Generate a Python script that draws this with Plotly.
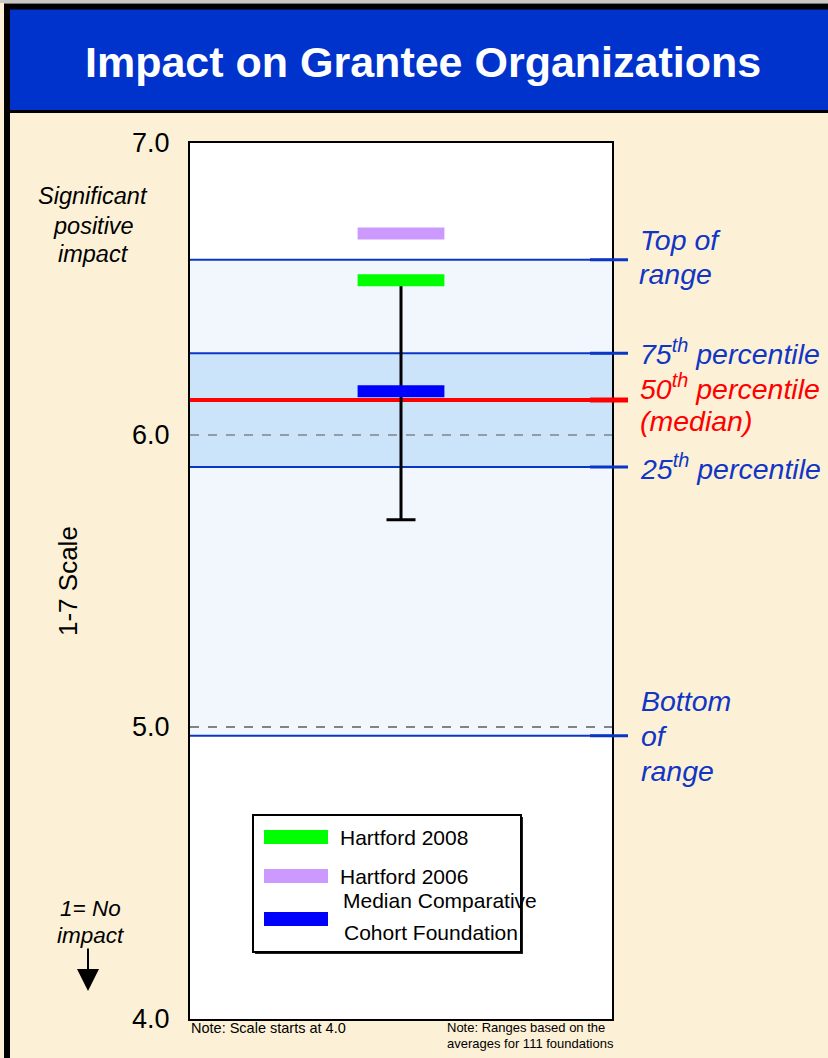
import plotly.graph_objects as go

# ---------------- data ----------------
categories = ["Hartford 2008", "Hartford 2006", "Median Comparative Cohort Foundation"]
values = [6.53, 6.69, 6.15]
colors = ["#00FF00", "#CC99FF", "#0000FF"]

whisker_low = 5.71  # lower end of Hartford 2008 range

range_names = ["Bottom of range", "25th percentile", "50th percentile (median)", "75th percentile", "Top of range"]
range_values = [4.97, 5.89, 6.12, 6.28, 6.60]

y_ticks = [4.0, 5.0, 6.0, 7.0]
y_ticktext = ["4.0", "5.0", "6.0", "7.0"]
grid_values = [5.0, 6.0]

# ---------------- layout helpers ----------------
W, H = 828, 1058
L, R, T, B = 190, 612, 143, 1019
Y0, Y1 = 4.0, 7.0
FONT = "Liberation Sans, Arial, sans-serif"
BEIGE = "#FCF1D7"
TITLE_BLUE = "#0033CC"
LINE_BLUE = "#0A36C8"
TXT_BLUE = "#1236C4"


def px(x):
    return (x - L) / (R - L)


def py(y):
    return (B - y) / (B - T)


def vy(v):
    return (v - Y0) / (Y1 - Y0)


fig = go.Figure()

# whisker (lower range of Hartford 2008) - top cap hidden below green marker
fig.add_trace(go.Scatter(
    x=[0.5], y=[values[0]], mode="markers",
    marker=dict(size=1, color="rgba(0,0,0,0)"),
    error_y=dict(type="data", symmetric=False, array=[0],
                 arrayminus=[values[0] - whisker_low],
                 color="black", thickness=3, width=14.5),
    showlegend=False, hoverinfo="skip"))

# marker bars
for name, val, col in zip(categories, values, colors):
    fig.add_trace(go.Scatter(
        x=[0.5], y=[val], mode="markers", name=name,
        marker=dict(symbol="line-ew", size=62, color=col,
                    line=dict(color=col, width=12)),
        showlegend=False))

shapes = []
# bands
bottom, p25, med, p75, top = range_values
shapes.append(dict(type="rect", xref="x", yref="y", x0=0, x1=1, y0=bottom, y1=top,
                   fillcolor="#F2F7FE", line=dict(width=0), layer="below"))
shapes.append(dict(type="rect", xref="x", yref="y", x0=0, x1=1, y0=p25, y1=p75,
                   fillcolor="#CCE4FA", line=dict(width=0), layer="below"))
# dashed grid lines
for g, gc in zip(grid_values, ["#111111", "#555555"]):
    shapes.append(dict(type="line", xref="x", yref="y", x0=0, x1=1, y0=g, y1=g,
                       line=dict(color=gc, width=1, dash="dash"), layer="below"))
# range lines
for nm, v in zip(range_names, range_values):
    is_med = "median" in nm
    col = "#FF0000" if is_med else LINE_BLUE
    w = 4 if is_med else 2
    shapes.append(dict(type="line", xref="x", yref="y", x0=0, x1=1, y0=v, y1=v,
                       line=dict(color=col, width=w), layer="below"))
    shapes.append(dict(type="line", xref="paper", yref="paper", x0=px(R - 22), x1=px(628),
                       y0=vy(v), y1=vy(v), line=dict(color=col, width=w + 1), layer="above"))

# title bar and outer frame
shapes.append(dict(type="rect", xref="paper", yref="paper", x0=px(7), x1=px(900),
                   y0=py(9), y1=py(111), fillcolor=TITLE_BLUE, line=dict(width=0), layer="above"))
shapes.append(dict(type="line", xref="paper", yref="paper", x0=px(7), x1=px(900),
                   y0=py(111.5), y1=py(111.5), line=dict(color="black", width=3), layer="above"))
shapes.append(dict(type="rect", xref="paper", yref="paper", x0=px(7), x1=px(900),
                   y0=py(1100), y1=py(6.5), line=dict(color="black", width=6), layer="above"))
shapes.append(dict(type="rect", xref="paper", yref="paper", x0=px(-20), x1=px(900),
                   y0=py(1100), y1=py(1.5), line=dict(color="#C8C8C8", width=3), layer="above"))

# legend box
shapes.append(dict(type="rect", xref="paper", yref="paper", x0=px(255), x1=px(523),
                   y0=py(954), y1=py(817), fillcolor="#222222", line=dict(width=0), layer="above"))
shapes.append(dict(type="rect", xref="paper", yref="paper", x0=px(253), x1=px(521),
                   y0=py(952), y1=py(815), fillcolor="white",
                   line=dict(color="black", width=2), layer="above"))
legend_y = [837, 876, 919]
for col, ly in zip(colors, legend_y):
    shapes.append(dict(type="rect", xref="paper", yref="paper", x0=px(264), x1=px(328),
                       y0=py(ly + 7), y1=py(ly - 7), fillcolor=col, line=dict(width=0),
                       layer="above"))

annotations = []


def ann(text, x, y, size, color="black", xanchor="left", **kw):
    annotations.append(dict(text=text, x=px(x), y=py(y), xref="paper", yref="paper",
                            xanchor=xanchor, yanchor="middle", showarrow=False,
                            font=dict(family=FONT, size=size, color=color), **kw))


ann("<b>Impact on Grantee Organizations</b>", 423, 62, 43, "white", "center")

# right-hand range labels
RS = 28.5
ann("<i>Top of</i>", 638, 240, RS, TXT_BLUE)
ann("<i>range</i>", 637, 274, RS, TXT_BLUE)
ann("<i>75<sup>th</sup> percentile</i>", 638, 352, RS, TXT_BLUE)
ann("<i>50<sup>th</sup> percentile</i>", 638, 387, RS, "#FF0000")
ann("<i>(median)</i>", 638, 421, RS, "#FF0000")
ann("<i>25<sup>th</sup> percentile</i>", 638, 467, RS, TXT_BLUE)
ann("<i>Bottom</i>", 639, 701, RS, TXT_BLUE)
ann("<i>of</i>", 639, 736, RS, TXT_BLUE)
ann("<i>range</i>", 639, 771, RS, TXT_BLUE)

# left labels
ann("<i>Significant</i>", 93, 196, 23.5, "black", "center")
ann("<i>positive</i>", 93, 226, 23.5, "black", "center")
ann("<i>impact</i>", 93, 254, 23.5, "black", "center")
ann("<i>1= No</i>", 90, 908, 22.5, "black", "center")
ann("<i>impact</i>", 91, 935, 22.5, "black", "center")
annotations.append(dict(text="1-7 Scale", x=px(68), y=py(581), xref="paper", yref="paper",
                        xanchor="center", yanchor="middle", showarrow=False, textangle=-90,
                        font=dict(family=FONT, size=26, color="black")))
# arrow
annotations.append(dict(text="", x=px(88), y=py(991), xref="paper", yref="paper",
                        ax=0, ay=-44, showarrow=True, arrowhead=2, arrowsize=2.2,
                        arrowwidth=2, arrowcolor="black"))

# legend texts
ann(categories[0], 338, 837, 21)
ann(categories[1], 338, 876, 21)
ann("Median Comparative", 341, 900, 21)
ann("Cohort Foundation", 342, 932, 21)

# notes
ann("Note: Scale starts at 4.0", 189, 1028, 14.5)
ann("Note: Ranges based on the", 445, 1027, 13)
ann("averages for 111 foundations", 445, 1043, 13)

fig.update_layout(
    width=W, height=H,
    margin=dict(l=L, r=W - R, t=T, b=H - B, pad=0),
    paper_bgcolor=BEIGE, plot_bgcolor="white",
    showlegend=False,
    shapes=shapes, annotations=annotations,
    font=dict(family=FONT, color="black"),
    xaxis=dict(range=[0, 1], visible=True, showticklabels=False, showgrid=False,
               zeroline=False, ticks="", showline=True, mirror=True,
               linecolor="black", linewidth=2, fixedrange=True),
    yaxis=dict(range=[Y0, Y1], tickvals=y_ticks, ticktext=y_ticktext,
               tickfont=dict(family=FONT, size=27, color="black"),
               ticks="outside", ticklen=13, tickcolor="rgba(0,0,0,0)",
               showgrid=False, zeroline=False, showline=True, mirror=True,
               linecolor="black", linewidth=2, fixedrange=True),
)

fig.write_html("out.html")
